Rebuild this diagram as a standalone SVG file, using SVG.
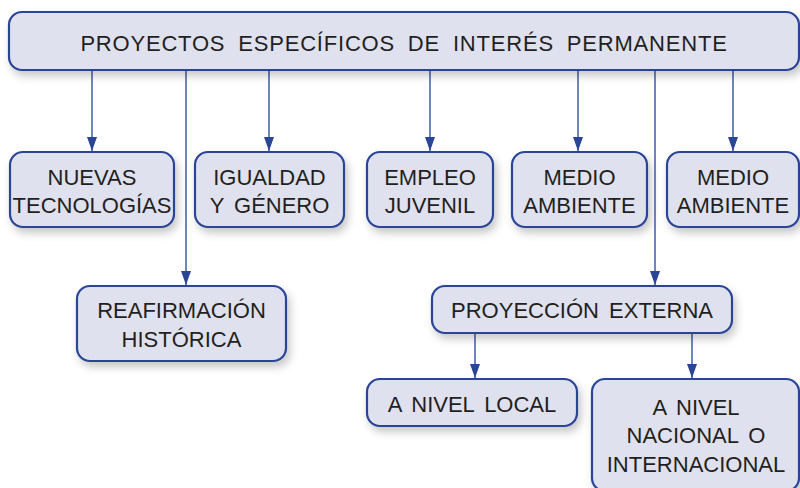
<svg xmlns="http://www.w3.org/2000/svg" width="800" height="488" viewBox="0 0 800 488">
<defs>
<filter id="sh" x="-10%" y="-10%" width="130%" height="160%">
<feDropShadow dx="3" dy="5" stdDeviation="4" flood-color="#000" flood-opacity="0.22"/>
</filter>
<marker id="ah" markerUnits="userSpaceOnUse" markerWidth="16" markerHeight="12" refX="14" refY="5" orient="auto">
<path d="M0,0 L14,5 L0,10 z" fill="#2a4596"/>
</marker>
<style>
.box{fill:#dfe1ee;stroke:#2a4596;stroke-width:2.2;filter:url(#sh)}
.t{font-family:"Liberation Sans",Arial,sans-serif;font-size:22px;fill:#231f20;text-anchor:middle;word-spacing:4px}
.c{stroke:#4a66ac;stroke-width:1.6;fill:none;marker-end:url(#ah)}
</style>
</defs>
<rect width="800" height="488" fill="#fff"/>
<g id="connectors">
<line class="c" x1="92" y1="70" x2="92" y2="151"/>
<line class="c" x1="186" y1="70" x2="186" y2="285"/>
<line class="c" x1="269" y1="70" x2="269" y2="151"/>
<line class="c" x1="430" y1="70" x2="430" y2="151"/>
<line class="c" x1="578" y1="70" x2="578" y2="151"/>
<line class="c" x1="655" y1="70" x2="655" y2="285"/>
<line class="c" x1="733" y1="70" x2="733" y2="151"/>
<line class="c" x1="475" y1="333" x2="475" y2="378"/>
<line class="c" x1="692" y1="333" x2="692" y2="378"/>
</g>
<g id="root">
<rect class="box" x="9" y="12" width="790" height="58" rx="13"/>
<text class="t" x="404" y="51" style="letter-spacing:0.8px;word-spacing:6px">PROYECTOS ESPECÍFICOS DE INTERÉS PERMANENTE</text>
</g>
<g id="nuevas">
<rect class="box" x="10" y="152" width="164" height="75" rx="13"/>
<text class="t" x="92" y="185">NUEVAS</text>
<text class="t" x="92" y="213">TECNOLOGÍAS</text>
</g>
<g id="igualdad">
<rect class="box" x="195" y="152" width="149" height="75" rx="13"/>
<text class="t" x="269.5" y="185">IGUALDAD</text>
<text class="t" x="269.5" y="213">Y GÉNERO</text>
</g>
<g id="empleo">
<rect class="box" x="367" y="152" width="126" height="75" rx="13"/>
<text class="t" x="430" y="185">EMPLEO</text>
<text class="t" x="430" y="213">JUVENIL</text>
</g>
<g id="medio1">
<rect class="box" x="512" y="152" width="135" height="75" rx="13"/>
<text class="t" x="579.5" y="185">MEDIO</text>
<text class="t" x="579.5" y="213">AMBIENTE</text>
</g>
<g id="medio2">
<rect class="box" x="667" y="152" width="132" height="75" rx="13"/>
<text class="t" x="733" y="185">MEDIO</text>
<text class="t" x="733" y="213">AMBIENTE</text>
</g>
<g id="reafirmacion">
<rect class="box" x="77" y="286" width="209" height="75" rx="13"/>
<text class="t" x="181.5" y="318">REAFIRMACIÓN</text>
<text class="t" x="181.5" y="347">HISTÓRICA</text>
</g>
<g id="proyeccion">
<rect class="box" x="432" y="286" width="300" height="47" rx="13"/>
<text class="t" x="582" y="318">PROYECCIÓN EXTERNA</text>
</g>
<g id="local">
<rect class="box" x="367" y="379" width="210" height="47" rx="13"/>
<text class="t" x="472" y="412">A NIVEL LOCAL</text>
</g>
<g id="nacional">
<rect class="box" x="592" y="379" width="207" height="112" rx="13"/>
<text class="t" x="696" y="415">A NIVEL</text>
<text class="t" x="696" y="443">NACIONAL O</text>
<text class="t" x="696" y="472">INTERNACIONAL</text>
</g>
</svg>
